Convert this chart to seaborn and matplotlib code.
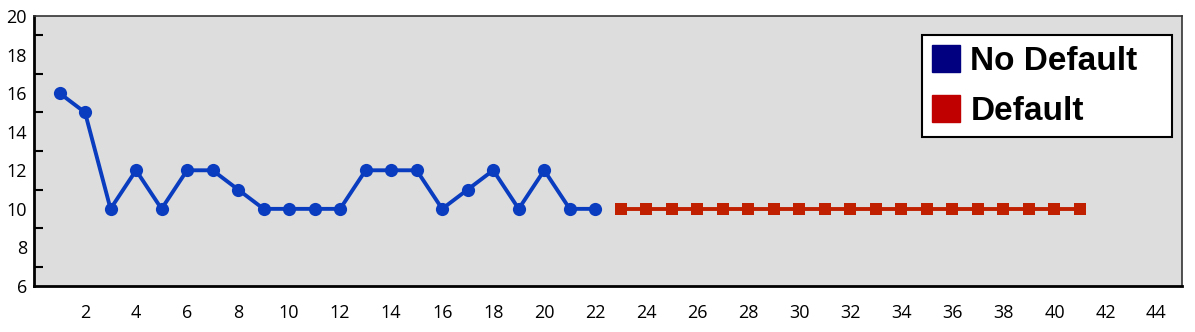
import matplotlib
matplotlib.use("Agg")
import matplotlib.pyplot as plt
import seaborn as sns
import pandas as pd
from matplotlib.patches import Patch
from matplotlib.ticker import MultipleLocator, FuncFormatter

no_default_x = list(range(1, 23))
no_default_y = [16, 15, 10, 12, 10, 12, 12, 11, 10, 10, 10, 10, 12, 12, 12, 10, 11, 12, 10, 12, 10, 10]
default_x = list(range(23, 42))
default_y = [10] * 19
legend_labels = ["No Default", "Default"]

sns.set_style("white")
plt.rcParams['font.family'] = ['Open Sans', 'DejaVu Sans']

fig = plt.figure(figsize=(11.95, 3.32), dpi=100)
ax = fig.add_axes([34/1195, 1-286/332, (1182-34)/1195, (286-16)/332])
ax.set_facecolor("#dddddd")

df1 = pd.DataFrame({"x": no_default_x, "y": no_default_y})
df2 = pd.DataFrame({"x": default_x, "y": default_y})
sns.lineplot(data=df1, x="x", y="y", ax=ax, color="#0a3cc0", lw=2.8, marker="o",
             markersize=9.5, markeredgewidth=0)
sns.lineplot(data=df2, x="x", y="y", ax=ax, color="#c02000", lw=2.8, marker="s",
             markersize=9, markeredgewidth=0)

ax.set_xlim(0, 45)
ax.set_ylim(6, 20)
ax.set_xticks(range(0, 45, 2))
ax.xaxis.set_major_formatter(FuncFormatter(lambda v, p: "" if v == 0 else f"{v:g}"))
ax.set_yticks(range(6, 21, 2))
ax.yaxis.set_minor_locator(MultipleLocator(1))
ax.set_xlabel("")
ax.set_ylabel("")
ax.tick_params(axis="x", which="major", direction="out", length=6, width=1.5,
               color="black", labelsize=13, labelcolor="black", pad=7)
ax.tick_params(axis="y", which="major", direction="in", length=12.5, width=1.5,
               color="black", labelsize=13, labelcolor="black", pad=5)
ax.tick_params(axis="y", which="minor", direction="in", length=6.5, width=1.5, color="black", left=True)
ax.tick_params(axis="x", which="minor", bottom=False)
for s in ["left", "bottom"]:
    ax.spines[s].set_color("black")
    ax.spines[s].set_linewidth(2)
for s in ["top", "right"]:
    ax.spines[s].set_color("#333333")
    ax.spines[s].set_linewidth(1.2)

handles = [Patch(facecolor="#000080", edgecolor="#000080"), Patch(facecolor="#c00000", edgecolor="#c00000")]
leg = fig.legend(handles, legend_labels, loc="upper left", mode="expand",
                 bbox_to_anchor=(922/1195, 1-138/332, 250/1195, 103/332), bbox_transform=fig.transFigure,
                 fancybox=False, frameon=True, framealpha=1,
                 prop={"family": "Liberation Sans", "weight": "bold", "size": 24},
                 handlelength=0.85, handleheight=0.85, handletextpad=0.3,
                 borderpad=0.3, labelspacing=0.55, borderaxespad=0)
for t in leg.get_texts():
    t.set_color("black")
leg.get_frame().set_edgecolor("black")
leg.get_frame().set_linewidth(1.5)
leg.get_frame().set_facecolor("white")

fig.savefig("out.png", dpi=100)
